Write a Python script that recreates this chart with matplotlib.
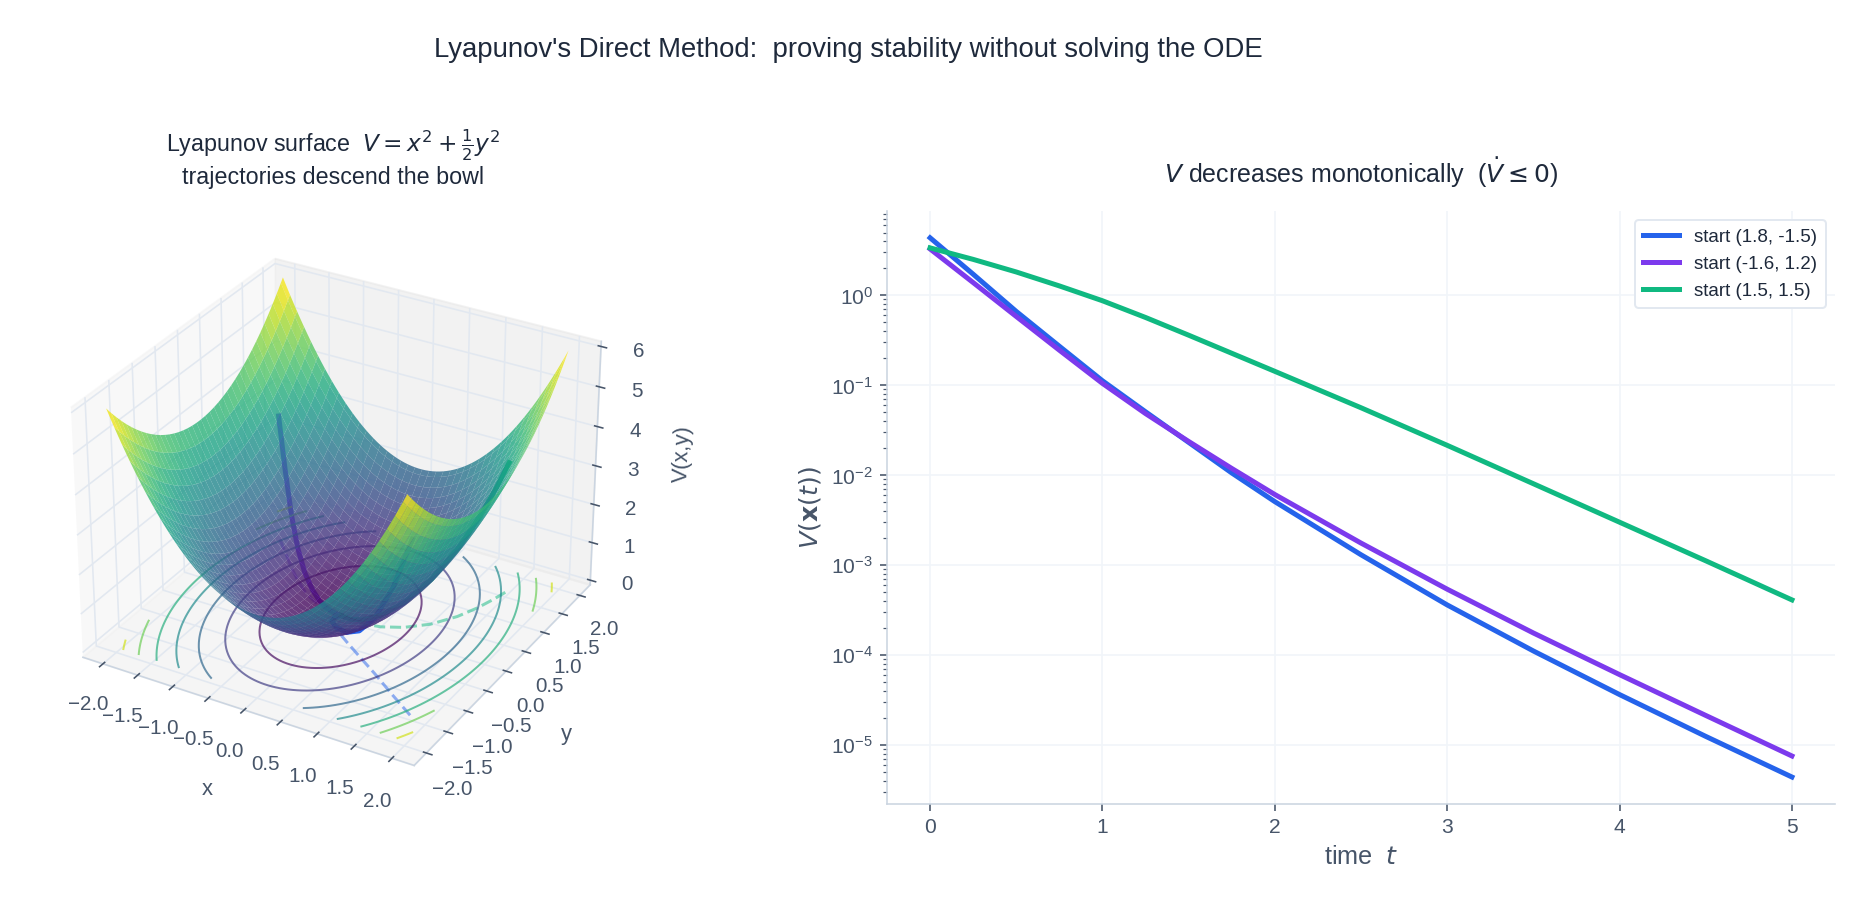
import numpy as np
import matplotlib
matplotlib.use("Agg")
import matplotlib.pyplot as plt

plt.rcParams['font.family'] = ['Liberation Sans', 'DejaVu Sans']
plt.rcParams['mathtext.fontset'] = 'dejavusans'

# log10 V
t = [0, 0.25, 0.5, 0.75, 1, 1.25, 1.5, 1.75, 2, 2.5, 3, 3.5, 4, 4.5, 5]
blue_log = [0.64, 0.235, -0.179, -0.566, -0.95, -1.295, -1.635, -1.975, -2.294, -2.885, -3.443, -3.955, -4.44, -4.905, -5.357]
purple_log = [0.516, 0.142, -0.235, -0.61, -0.979, -1.315, -1.625, -1.925, -2.215, -2.755, -3.268, -3.755, -4.218, -4.672, -5.123]
green_log = [0.528, 0.40, 0.26, 0.105, -0.06, -0.246, -0.443, -0.644, -0.845, -1.25, -1.668, -2.095, -2.523, -2.952, -3.387]
labels = ["start (1.8, -1.5)", "start (-1.6, 1.2)", "start (1.5, 1.5)"]
colors = ["#2563eb", "#7c3aed", "#10b981"]

# paths in the (x, y) plane, estimated from the dashed floor shadows
blue_x = [1.8, 1.4, 1.0, 0.65, 0.35, 0.1, -0.03, -0.05, -0.02, 0.0]
blue_y = [-1.5, -1.22, -0.93, -0.69, -0.48, -0.3, -0.18, -0.08, -0.02, 0.0]
purple_x = [-1.6, -1.35, -1.1, -0.88, -0.68, -0.5, -0.35, -0.22, -0.12, -0.05, 0.0]
purple_y = [1.2, 0.93, 0.66, 0.44, 0.27, 0.15, 0.07, 0.03, 0.01, 0.0, 0.0]
green_x = [1.5, 1.45, 1.37, 1.25, 1.05, 0.8, 0.55, 0.32, 0.15, 0.05, 0.0]
green_y = [1.5, 1.28, 1.0, 0.7, 0.38, 0.15, 0.02, -0.03, -0.03, -0.01, 0.0]

contour_levels = [0.8, 1.6, 2.4, 3.2, 4.0, 4.8, 5.6]

ink = "#1e293b"
muted = "#475569"
line_c = "#cbd5e1"
grid_c = "#e2e8f0"


def V(x, y):
    return np.asarray(x)**2 + 0.5*np.asarray(y)**2


fig = plt.figure(figsize=(13, 6.3), dpi=144)
fig.text(0.453, 0.945, "Lyapunov's Direct Method:  proving stability without solving the ODE",
         ha="center", va="center", fontsize=13.75, color=ink)

# left: surface
ax = fig.add_axes([0.0155, 0.115, 0.325, 0.65], projection="3d")
gx = np.linspace(-2, 2, 80)
X, Y = np.meshgrid(gx, gx)
Z = V(X, Y)
ax.plot_surface(X, Y, Z, cmap="viridis", alpha=0.8, linewidth=0, antialiased=True)
ax.contour(X, Y, Z, levels=contour_levels, zdir="z", offset=0, cmap="viridis", vmin=0.6, vmax=6,
           alpha=0.7, linewidths=1.0)
paths = [(blue_x, blue_y), (purple_x, purple_y), (green_x, green_y)]
for (px, py), c in zip(paths, colors):
    ax.plot(px, py, V(px, py), color=c, lw=2.5)
    ax.plot(px, py, np.zeros(len(px)), color=c, lw=1.5, ls="--", alpha=0.5)
ax.view_init(elev=30, azim=-60)
ax.set_xlabel("x", color=muted, fontsize=11, labelpad=7)
ax.set_ylabel("y", color=muted, fontsize=11, labelpad=7)
ax.set_zlabel("V(x,y)", color=muted, fontsize=11, labelpad=6)
ax.set_title("Lyapunov surface  $V = x^2 + \\frac{1}{2}y^2$\ntrajectories descend the bowl",
             color=ink, fontsize=11.6, pad=14.5)
ax.tick_params(labelsize=10.3, colors=muted)
for a in (ax.xaxis, ax.yaxis, ax.zaxis):
    a.line.set_color(line_c)
    a._axinfo["grid"]["color"] = grid_c
    a._axinfo["grid"]["linewidth"] = 0.8

# right: V(t)
ax2 = fig.add_axes([887/1872, 1 - 804/907, 948/1872, 593/907])
for vals, lab, c in zip([blue_log, purple_log, green_log], labels, colors):
    ax2.semilogy(t, 10**np.array(vals), color=c, lw=2.5, label=lab)
ax2.set_xlabel("time  $t$", color=muted, fontsize=12.6)
ax2.set_ylabel("$V(\\mathbf{x}(t))$", color=muted, fontsize=12.6, labelpad=4)
ax2.set_title("$V$ decreases monotonically  ($\\dot{V} \\leq 0$)", color=ink, fontsize=12.5, pad=14)
ax2.grid(True, which="major", color="#f1f5f9", lw=0.8)
ax2.set_axisbelow(True)
ax2.spines["top"].set_visible(False)
ax2.spines["right"].set_visible(False)
ax2.spines["left"].set_color(line_c)
ax2.spines["bottom"].set_color(line_c)
ax2.tick_params(labelsize=10.5, labelcolor=muted, color=muted)
ax2.tick_params(which="minor", color=muted)
leg = ax2.legend(loc="upper right", fontsize=9.4, frameon=True, edgecolor=grid_c, labelcolor=ink,
                 framealpha=1, labelspacing=0.52, borderpad=0.45, handlelength=1.9)

fig.savefig("out.png", dpi=144)
